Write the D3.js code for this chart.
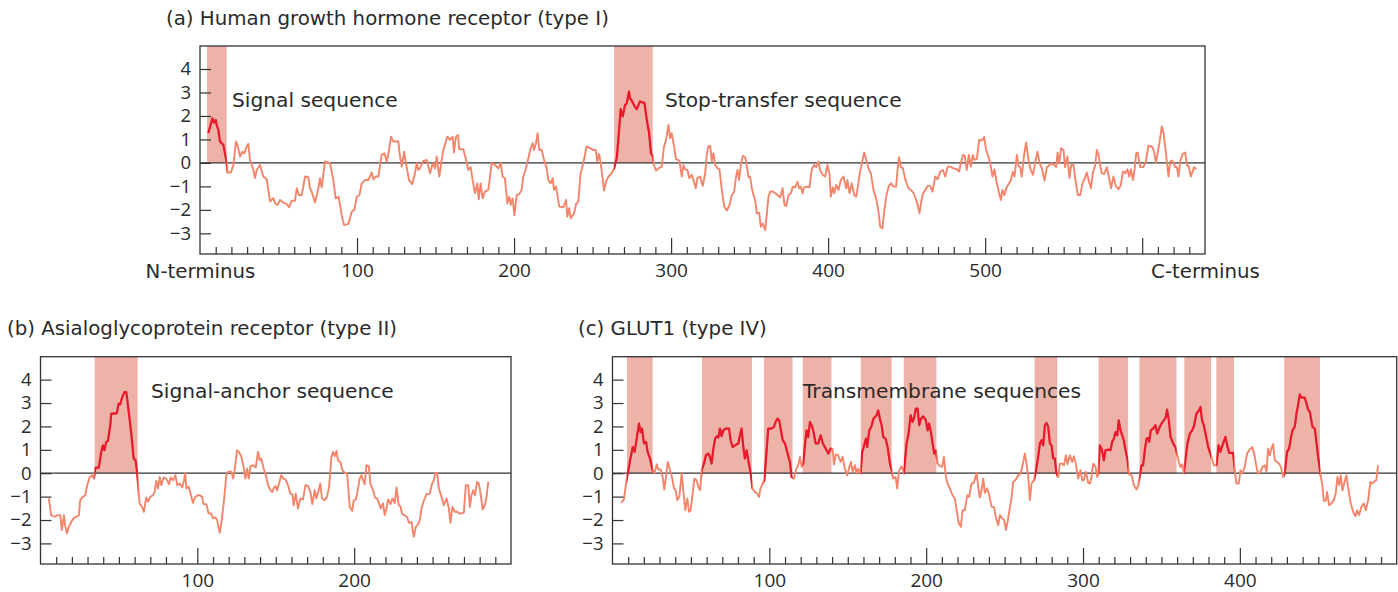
<!DOCTYPE html>
<html><head><meta charset="utf-8">
<script src="https://cdn.jsdelivr.net/npm/d3@7"></script>
<style>
body{margin:0;background:#fff}
svg{display:block}
text{font-family:"DejaVu Sans",sans-serif;fill:#2a2a2a}
</style>
</head><body>
<svg id="chart" width="1398" height="592"></svg>
<script>
// ---------- DATA ----------
const titles = ["(a) Human growth hormone receptor (type I)", "(b) Asialoglycoprotein receptor (type II)", "(c) GLUT1 (type IV)"];
const annotations = ["Signal sequence", "Stop-transfer sequence", "Signal-anchor sequence", "Transmembrane sequences"];
const yTickValues = [4, 3, 2, 1, 0, -1, -2, -3];

const xTickValuesA = [0, 100, 200, 300, 400, 500, 640];
const xTickLabelsA = ["N-terminus", "100", "200", "300", "400", "500", "C-terminus"];
const xTickValuesB = [100, 200];
const xTickValuesC = [100, 200, 300, 400];

const regionsA = [[4.5, 17], [263.7, 288.3]];
const regionsB = [[34.5, 62]];
const regionsC = [[9.2, 25.6], [57, 88.9], [96.5, 114.8], [121.3, 139.6], [158.3, 178], [185.7, 206.5],
  [269.1, 283.6], [309.9, 328.8], [336, 359.6], [364.6, 381.6], [385, 396.3], [428.3, 451.1]];

// residue, hydropathy index
const hydroA = [
[5.3,1.27],[7.9,1.9],[8.9,1.72],[10,1.83],[10.6,1.62],[11.7,1.41],[12.7,0.91],[14.9,0.77],[17,0],[17.6,-0.41],[19.7,-0.41],[21.2,-0.1],[22.9,0.91],[23.8,0.77],[25.5,0.27],[27,0.48],[28.2,0.41],[29.7,0.7],[30.8,0.81],[31.8,0.13],[34,-0.3],[35,-0.65],[36.1,-0.3],[38.2,-0.09],[40.3,-0.58],[42.5,-0.7],[43.5,-1.15],[44.6,-1.65],[46.7,-1.5],[47.8,-1.72],[49.3,-1.79],[51,-1.58],[53,-1.69],[55.2,-1.75],[56.7,-1.89],[58.4,-1.61],[60.5,-1.61],[61.6,-1.08],[63,-1.37],[64.8,-1.37],[66.9,-0.58],[69,-0.61],[70,-1.08],[71.1,-1.22],[73.2,-1.69],[75.4,-1.08],[76.4,-0.65],[77.5,-1.04],[79.6,0.06],[82.8,-0.01],[84.9,-0.73],[86.4,-1.51],[88.1,-1.44],[89.2,-1.79],[90.2,-2.22],[91.7,-2.65],[94.5,-2.6],[96.6,-2.08],[98.3,-2],[99.8,-1.44],[101.5,-1.37],[103,-0.87],[105.1,-0.73],[107.2,-0.73],[109.3,-0.41],[110.4,-0.7],[111.9,-0.58],[113.6,-0.58],[115.7,0.34],[117.4,0.41],[118.9,0.06],[120,0.41],[121.7,1.12],[123.1,0.91],[126.3,0.91],[127.4,0.27],[128.5,-0.16],[130,0.48],[131.6,-0.18],[133.1,-0.73],[135.2,-0.9],[136.9,-0.44],[138,-0.01],[139.1,-0.3],[140.1,-0.23],[141.8,0.06],[144.4,0.13],[146.5,-0.44],[148.2,-0.01],[149.7,-0.23],[150.7,0.27],[152.4,-0.58],[153.9,0.13],[155,0.55],[157.5,1.12],
[159.2,0.98],[160.9,1.12],[161.7,0.44],[163,1.12],[164.3,1.19],[165.1,0.58],[167.7,0.58],[169.4,0.13],[170.9,-0.3],[172.4,-0.18],[173.6,-0.73],[175.1,-1.29],[176.6,-0.87],[177.5,-1.55],[178.7,-0.87],[180,-1.51],[181.5,-1.22],[183.6,-1.15],[184.7,-0.58],[185.7,-0.01],[187.9,-0.09],[190,-0.23],[191.5,-0.01],[192.7,-0.58],[194.2,-0.65],[195.7,-1.72],[197,-1.44],[197.8,-1.79],[199.1,-1.51],[200.2,-2.22],[201.7,-1.37],[203.4,-1.32],[204.8,-1.15],[205.9,-0.58],[207.6,-0.23],[209.1,0.2],[210.6,0.63],[211.9,0.84],[212.7,0.55],[214,0.84],[215,1.27],[216.1,0.55],[217.6,0.55],[219.1,0.13],[220.8,-0.23],[221.8,-0.73],[223.3,-0.87],[224.6,-0.65],[225.4,-1.15],[226.7,-1.01],[227.6,-1.37],[228.8,-1.86],[231.4,-1.89],[233.1,-1.58],[233.9,-2.29],[235,-1.93],[236.1,-2.36],[238.2,-2.15],[239.5,-1.75],[240.9,-1.65],[242.4,-0.44],[244.1,-0.01],[246.2,0.7],[248.4,0.63],[250.5,0.55],[252,0.55],[253,0.06],[254.1,0.38],[255.2,-0.01],[257.3,-1.18],[258.6,-0.8],[260.1,-0.58],[262.2,-0.44],[263.7,-0.23],[265.4,0.2],[266.4,0.98],[267.9,2.29],[269.2,1.98],[270.7,2.48],[271.7,2.52],[273.2,3.04],[273.8,2.76],[274.9,2.66],[276.6,2.43],[278.1,2.29],[280.2,2.62],[281.9,2.57],[283,2.57],[284.5,1.84],[286,1.27],[287.2,0.41],[288.3,0.3],[289.1,-0.09],[290.4,-0.33],[291.9,-0.23],[294,-0.16],[295.5,0.7],[296.8,0.98],[298.3,1.62],[299.3,1.05],[300.4,1.27],[301.9,0.7],[303.1,0.16],[305.3,0.1],[306.8,-0.58],[307.8,-0.09],[308.9,-0.27],[310.4,-0.3],[311.6,-0.65],[313.1,-0.51],[314.2,-0.73],[315.7,-1.08],[316.7,-0.65],
[318.5,-0.58],[320.2,-0.98],[321.7,-0.44],[322.7,0.34],[323.8,0.7],[324.9,0.73],[325.9,0.06],[327,0.41],[328.1,-0.09],[329.5,-0.23],[330.8,-0.27],[332.3,-1.15],[333.8,-1.86],[335.5,-2.03],[337.2,-1.79],[338.7,-1.37],[340.2,-1.22],[341.2,-0.65],[342.3,-0.3],[343.3,-0.73],[344.4,-0.09],[345.7,0.3],[347.2,0.24],[348.2,-0.13],[349.3,-0.61],[350.3,-0.58],[351.4,-1.08],[352.5,-1.37],[353.5,-1.58],[354.6,-2.15],[356.1,-2.12],[357.1,-2.72],[358.4,-2.58],[359.9,-2.86],[361,-2.15],[362,-1.44],[363.1,-1.22],[364.8,-1.22],[366.3,-1.29],[367.8,-1.37],[369.5,-1.47],[371,-1.08],[372.2,-1.79],[373.3,-1.84],[374.8,-1.37],[376.3,-1.29],[377.5,-1.01],[379,-1.04],[380.5,-0.8],[381.6,-1.08],[382.6,-1.01],[383.7,-1.29],[384.7,-1.04],[386.4,-1.01],[388.1,-1.04],[389.6,-0.27],[391.1,-0.09],[392.4,-0.18],[393.9,0.06],[394.9,-0.3],[396.6,-0.51],[398.1,-0.58],[399.6,-0.09],[400.9,-0.51],[401.7,-1.44],[403,-1.04],[403.9,-1.29],[405.1,-0.94],[406.6,-1.15],[408.1,-0.73],[409.8,-0.58],[411.5,-1.08],[412.3,-0.73],[413.6,-1.29],[415.1,-0.87],[416.6,-1.37],[417.9,-1.44],[418.9,-1.01],[420.4,-0.37],[421.9,0.13],[423,0.44],[424.2,0.13],[425.7,-0.23],[427.2,-0.44],[428.9,-1.15],[430.6,-1.51],[432.1,-2.08],[433.1,-2.72],[434.6,-2.79],[435.7,-2.08],[437,-1.44],[438.5,-1.01],[440,-0.87],[441.6,-1.01],[443.3,-1.01],[444.2,-0.3],[445.2,0.24],[446.3,-0.18],[447.6,-0.23],[449.1,-0.7],[451.2,-1.08],[452.7,-1.15],[454.4,-1.29],[456.1,-1.58],[457,-1.79],[458.2,-2.15],[459.1,-1.72],[460.3,-1.32],[461.8,-1.15],[463.3,-0.98],[465,-0.98],[466.5,-1.22],[468.2,-0.58],[469.7,-0.7],[471.4,-0.37],[473.1,-0.3],[474.6,-0.58],[476.1,-0.16],
[477.7,-0.16],[479.8,-0.23],[482,-0.27],[483.4,-0.37],[484.5,-0.01],[485.8,0.34],[487,0.3],[488.3,-0.3],[489.6,0.34],[490.9,-0.16],[492.1,0.34],[493,0.13],[494.7,0.16],[496.2,0.98],[497.9,0.95],[499.4,1.1],[500.6,0.55],[502.1,0.27],[503.2,-0.01],[504.7,-0.58],[505.9,-0.27],[507.4,-0.87],[508.9,-1.29],[510,-1.58],[511,-1.15],[512.3,-1.37],[513.4,-1.08],[514.9,-0.9],[516.3,-0.75],[517.6,-0.37],[518.7,-0.58],[520.2,0.34],[521.2,-0.13],[522.3,-0.18],[523.3,-0.58],[524.8,0.34],[526.1,0.87],[527.6,0.13],[528.7,-0.23],[530.4,-0.51],[531.8,-0.01],[533.3,0.48],[534.6,0.01],[536.1,-0.23],[537.8,-0.75],[539.3,-0.18],[541,-0.09],[542.5,-0.01],[544,-0.09],[545.2,-0.18],[546.1,0.44],[547.1,-0.01],[548.4,0.63],[549.9,0.55],[550.9,-0.18],[552.4,0.27],[553.7,-0.65],[554.8,-0.09],[556.3,-0.09],[557.5,-0.73],[559,-1.37],[560.5,-1.37],[562,-0.87],[563.5,-0.65],[564.7,-0.41],[566.2,-0.8],[567.3,-1.08],[568.6,-0.44],[570.1,-0.09],[571.1,0.55],[572.2,0.34],[573.2,-0.09],[574.3,-0.44],[575.8,-0.47],[577.5,-0.18],[579.2,-0.73],[580.2,-1.08],[581.7,-0.58],[583.2,-0.98],[584.9,-1.12],[586.4,-0.94],[587.7,-0.37],[589.2,-0.44],[590.6,-0.27],[591.7,-0.58],[592.8,-0.27],[594.1,-0.73],[595.1,-0.3],[596.2,0.41],[597.2,0.44],[598.7,-0.18],[600.8,-0.18],[602.3,0.06],[604,0.73],[606.2,0.7],[607.6,0.48],[608.7,0.01],[610,0.48],[611,0.87],[612.5,1.55],[613.6,1.27],[614.6,0.7],[615.7,0.06],[616.8,-0.58],[617.8,0.06],[618.9,0.1],[620,-0.01],[621,-0.18],[622.1,-0.18],[623.1,-0.58],[624.2,0.06],[625.7,0.38],[627.4,0.44],[628.4,-0.09],[629.7,-0.16],[631,-0.58],[632.1,-0.37],[633.1,-0.18],[634.4,-0.27]
];

const hydroB = [
[5.3,-1.08],[6.8,-1.79],[8.9,-1.86],[11.1,-1.79],[12.6,-1.79],[13.6,-2.43],[14.9,-1.79],[15.7,-2.22],[16.8,-2.57],[18.1,-2.29],[19.6,-2.08],[21.1,-1.93],[22.8,-1.86],[24.5,-1.79],[25.3,-1.15],[27,-1.01],[28.5,-0.94],[29.8,-0.51],[31.3,-0.18],[32.8,-0.09],[34,-0.23],[35.1,0.24],[37.2,0.24],[38.7,0.91],[39.8,1.19],[40.8,0.98],[41.9,1.34],[43,1.38],[44.5,2.05],[45.1,2.55],[47.2,2.55],[48.7,2.57],[49.8,2.97],[50.8,2.94],[51.5,3.12],[52.6,3.33],[53.6,3.47],[54.7,3.47],[56.4,2.55],[57.9,1.69],[59.4,0.63],[60.6,0.55],[61.7,-0.01],[63.2,-1.29],[64.7,-1.44],[65.9,-1.65],[67.4,-1.04],[68.5,-1.22],[70,-1.01],[71.7,-0.94],[72.8,-0.8],[73.8,-0.33],[74.9,-0.65],[76,-0.16],[77,-0.51],[78.5,-0.18],[80.2,-0.23],[81.9,-0.47],[83,-0.18],[84.5,-0.3],[86,-0.09],[87.2,-0.51],[88.7,-0.44],[90.4,-0.61],[91.5,-0.3],[92.3,-0.01],[93,-0.65],[94.5,-0.58],[95.7,-0.87],[97.2,-1.27],[98.7,-1.01],[100.4,-0.94],[101.5,-0.94],[103,-1.01],[104,-1.32],[105.7,-1.32],[107.2,-1.72],[108.9,-1.72],[110,-1.93],[111.5,-1.89],[112.6,-2],[114.3,-2.55],[115.3,-2.15],[116.8,-1.29],[118.5,-0.09],[119.6,0.06],[121.7,0.06],[122.8,-0.23],[123.8,0.13],[125.3,0.98],[126.6,0.91],[128.1,0.7],[129.6,0.24],[130.6,-0.23],[131.7,0.2],[132.8,-0.23],[133.8,0.3],[135.5,0.34],[137.2,0.24],[138.7,0.91],[139.8,0.55],[140.8,0.63],[142.3,0.2],[144,-0.16],[145.1,-0.51],[146.6,-0.73],
[147.8,-0.8],[148.9,-0.61],[149.9,-0.55],[150.8,-0.73],[152.1,-0.44],[153.5,-0.09],[155,-0.23],[156.3,-0.27],[157.8,-0.51],[159.3,-0.87],[160.6,-0.9],[161.4,-1.37],[162.7,-0.87],[164.2,-1.51],[165.7,-1.08],[167.4,-1.12],[168.9,-0.51],[170.6,-0.55],[172.1,-0.8],[173.3,-1.32],[174.8,-0.73],[175.9,-1.08],[177.4,-0.73],[178.4,-0.44],[179.5,-1.08],[181.2,-1.15],[182.7,-1.01],[184,-0.58],[185.5,0.7],[186.5,0.91],[187.6,0.73],[188.7,0.95],[189.7,0.55],[191.2,0.48],[192.5,0.13],[194,0.01],[195.5,-0.01],[197.2,-1.44],[198.7,-1.61],[199.7,-1.18],[201,-1.12],[202.1,-0.8],[203.5,-0.23],[204.6,-0.09],[205.7,-0.3],[206.7,-0.47],[207.8,0.34],[209.3,0.3],[210.4,-0.47],[212.1,-0.73],[213.3,-1.04],[214.6,-1.08],[215.9,-1.29],[216.9,-1.51],[218.4,-1.29],[219.5,-1.79],[220.6,-1.51],[221.6,-1.12],[223.1,-1.32],[224.4,-1.08],[225.9,-1.27],[227,-0.61],[228.4,-1.37],[229.5,-1.41],[230.6,-1.75],[232.3,-1.79],[233.8,-1.89],[235,-2.12],[236.5,-2.08],[238,-2.72],[239.3,-2.29],[240.8,-2.18],[241.9,-2],[242.9,-1.51],[244.4,-1.18],[246.1,-0.9],[248.2,-0.87],[249.7,-0.44],[250.8,-0.3],[251.8,0.01],[252.9,0.01],[254,-0.65],[255.7,-1.01],[257.2,-1.37],[258.9,-1.08],[260.4,-1.51],[261.4,-2.12],[262.7,-1.44],[264.2,-1.65],[265.7,-1.65],[267,-1.72],[268.4,-1.72],[269.9,-1.69],[271.2,-0.51],[272.7,-0.51],[273.8,-1.44],[274.8,-0.94],[275.9,-0.73],[277,-0.94],[278.4,-0.37],[279.5,-0.44],[280.6,-0.87],[281.9,-1.55],[283.3,-1.37],[284.4,-1.01],[285.5,-0.37]
];

const hydroC = [
[5.6,-1.27],[7.3,-1.12],[8.6,-0.44],[9.7,-0.01],[11.2,0.55],[12.9,1.12],[14.1,0.91],[15.4,1.48],[16.9,2.12],[17.9,1.76],[18.8,1.91],[20.1,1.27],[21.4,1.34],[22.4,0.91],[23.9,0.63],[25.6,0.13],[26.7,-0.01],[28.2,0.38],[29.2,0.16],[30.7,0.16],[32,-0.16],[33,-0.7],[34.1,-0.16],[35.2,0.48],[36.7,0.13],[37.9,-0.16],[39.2,-0.65],[40.3,-0.73],[41.3,-1.15],[42.6,-1.01],[44.1,-0.01],[45.1,-0.73],[46.4,-1.58],[47.7,-1.08],[48.8,-1.65],[49.8,-1.58],[51.1,-0.87],[52.2,-0.23],[53.6,-0.3],[54.7,-0.58],[55.8,-0.73],[56.8,0.13],[58.3,0.41],[59.6,0.77],[61.1,0.84],[62.1,0.7],[63.2,0.41],[64.3,1.05],[65.5,1.48],[66.4,1.58],[67.5,1.52],[68.5,1.91],[69.6,1.58],[70.6,1.83],[72.1,1.91],[74.3,1.91],[75.3,1.41],[76.6,1.12],[78.1,1.19],[80.2,1.27],[81.3,1.62],[82.3,1.91],[83.4,1.12],[84.4,0.63],[85.5,0.98],[86.6,0.55],[88.1,-0.01],[89.3,-0.65],[90.8,-0.8],[92.3,-0.87],[93.4,-1.01],[94.4,-0.65],[95.7,-0.44],[96.8,-0.3],[97.8,0.55],[99.3,1.91],[101.4,1.91],[102.9,1.98],[104,2.19],[105.1,2.33],[106.3,2.26],[107.4,1.83],[108.5,1.41],[110,1.27],[111.4,0.91],[113.1,0.48],[114.2,-0.16],[115.7,-0.23],[116.9,0.13],[118.4,0.34],[119.5,0.7],[120.6,0.27],[121.6,0.41],[122.7,1.19],[123.7,1.83],[124.8,1.55],[125.9,2.19],[127.4,1.98],[128.4,1.69],[129.5,1.27],[131.2,1.27],[132.7,1.62],[134,1.29],[135.4,1.12],[136.5,0.98],[137.6,0.84],[139,1.05],[140.3,1.05],[141.2,0.38],[142.4,0.81],[143.9,0.77],[145.4,0.48],[146.7,0.7],[148.2,0.16],[149.7,-0.09],[150.9,0.24],[152,0.48],[153.1,0.06],[154.6,0.34],[155.6,-0.01],[156.7,0.2],[158.2,-0.01],[159.2,0.91],[160.3,1.15],[161.6,1.48],[162.4,1.12],[163.7,1.83],[165.2,2.01],[166.3,2.33],[168.4,2.48],[169.4,2.69],[170.5,2.33],[171.6,2.05],[172.6,1.55],[174.1,1.48],[175.4,1.12],[176.9,0.41],[178,0.13],[179,-0.23],[180.5,-0.16],[181.5,-0.65],[182.8,0.13],[184.3,0.3],[185.8,-0.01],[187.5,1.27],[188.6,1.62],[190.1,2.48],[191.3,2.19],[192.4,2.4],[193.4,2.76],[194.5,2.76],[195.6,2.05],[196.6,2.33],[198.1,2.43],[199.8,2.26],[200.9,1.83],[201.9,2.12],[203,1.76],[204.1,1.27],[205.1,0.84],[206.2,0.98],[207.3,0.41],[208.7,0.3],[210.2,0.27],[211.3,0.7],[212.6,-0.16],[213.6,-0.44],[215.1,-0.65],[216.8,-0.94],[218.3,-1.08],[219.4,-1.58],[220.8,-2.15],[222.1,-2.29],
[223.2,-1.58],[224.7,-1.58],[226.2,-0.94],[227.4,-1.01],[228.9,-0.44],[230.4,-0.41],[232.1,0.01],[233.2,-0.58],[234.2,-1.04],[235.3,-0.73],[236.4,-0.23],[237.4,-0.84],[238.9,-0.65],[240.2,-0.94],[241.7,-1.44],[243.2,-1.44],[244.4,-1.86],[245.9,-2.22],[247,-1.79],[248.5,-1.93],[249.8,-2.01],[250.8,-2.43],[251.9,-2.08],[253.4,-1.44],[254.4,-1.08],[255.5,-0.37],[257.2,-0.27],[258.7,-0.09],[260.2,-0.01],[261.9,0.48],[262.9,0.84],[264,0.41],[265.1,-0.16],[266.1,-1.15],[267.2,-0.44],[268.7,-0.3],[269.9,0.06],[271.4,0.7],[272.5,1.27],[273.6,1.41],[274.6,1.19],[275.7,2.05],[276.7,2.15],[277.8,1.98],[278.9,1.27],[279.9,1.19],[281,0.63],[282,0.63],[283.1,-0.01],[284.2,-0.16],[285.2,0.41],[286.7,0.41],[287.8,0.34],[289.1,0.77],[290.1,0.38],[291.6,0.77],[293.1,0.48],[294.2,0.73],[295.4,0.41],[296.9,-0.23],[298.4,0.13],[299.5,-0.3],[300.5,-0.3],[301.8,0.06],[303.3,-0.41],[304.4,-0.44],[305.4,-0.16],[306.5,0.41],[308,0.27],[309,-0.16],[309.7,-0.01],[310.7,1.19],[312,1.01],[313.3,0.55],[314.3,0.98],[316,1.01],[317.5,0.98],[318.6,1.34],[319.7,1.48],[320.7,1.76],[321.8,1.62],[322.8,2.26],[323.9,1.83],[325,1.62],[326,1.41],[327.1,0.98],[328.4,0.55],[329.4,-0.04],[331,-0.09],[332.4,-0.51],[334.1,-0.7],[335.2,-0.51],[336.2,-0.09],[337.3,0.34],[338.3,0.34],[339.4,0.98],[340.5,1.48],[341.5,1.51],[342.2,1.34],[343.2,1.83],[344.7,1.91],[346.2,2.05],[347.3,1.69],[348.5,1.91],[350,2.12],[351.5,2.26],[352.8,2.4],[353.6,2.72],[354.7,2.26],[355.8,1.55],[357.5,1.27],[359,1.1],[360,0.81],[361.3,0.41],[362.1,0.27],[363.2,0.38],[364.3,-0.01],[365.5,0.7],[366.6,1.27],[368.1,1.69],[369.6,1.83],[370.9,2.05],[372.3,2.55],[374,2.69],[374.9,2.83],[375.9,2.26],[377,2.05],[378.3,1.62],[379.8,1.12],[380.8,0.91],[381.9,0.7],[383.4,0.34],[385.1,0.34],[386.4,1.19],[387.6,0.91],[388.5,1.12],[389.3,1.27],[390.8,1.55],[391.9,1.19],[393.2,0.87],[395.7,0.87],[397,-0.01],[397.8,-0.44],[399.3,-0.44],[400.4,0.13],[401.7,-0.01],[403.1,0.27],[404.6,0.84],[406.3,1.01],[408,1.12],[409.5,0.7],[410.6,0.27],[411.6,-0.01],[413.1,0.06],[414.4,0.27],[415.9,0.34],[417,0.06],[418,1.05],[419.1,0.77],[420.1,1.05],[421.2,1.24],[422.3,0.55],[423.8,0.48],[425,0.41],[426.1,0.27],[427.6,-0.16],[428.6,-0.01],[430.1,0.91],[431.4,1.05],[432.5,1.48],[433.5,1.83],[435,1.98],[436.1,2.55],[437.1,2.9],[438.2,3.37],[439.3,3.23],[441.4,3.23],[442.4,3],[443.5,2.72],[444.6,2.62],[446.3,1.98],[447.8,1.91],[448.8,1.34],[449.9,0.7],[451.4,-0.01],[452.7,-0.58],[453.5,-1.18],[454.8,-1.18],[455.6,-0.8],[456.9,-1.37],[458.4,-1.29],[459.9,-1.15],[461.1,-0.87],[462.2,-0.16],[463.3,-0.51],[464.3,-0.09],[465.4,-0.73],[466.5,-0.44],[467.9,-0.09],[469,-0.58],[470.5,-1.22],[472.2,-1.65],[473.7,-1.84],[474.7,-1.58],[476,-1.79],[477.5,-1.44],[479,-1.29],[480.3,-1.58],[481.8,-1.15],[483.2,-0.37],[484.3,-0.44],[485.4,-0.37],[487,-0.3],[488.1,0.34]
];

// ---------- STYLE ----------
const COL_LINE = "#f4846a";
const COL_HI = "#e8192c";
const COL_SHADE = "#edb3a9";
const COL_INK = "#2a2a2a";
const WORD_FONT = '"DejaVu Sans",sans-serif';
const NUM_FONT = '"Open Sans",sans-serif';
const yDomain = [-3.88, 4.98];

const panels = [
  {id:"a", title:titles[0], titleX:166, titleY:25, data:hydroA, regions:regionsA,
   xDomain:[0,640], left:200, right:1205, top:46, bottom:254, tickMax:630,
   majors:[100,200,300,400,500,600], xLabelVals:xTickValuesA, xLabelText:xTickLabelsA,
   notes:[{t:annotations[0], x:232, y:107},{t:annotations[1], x:665, y:107}]},
  {id:"b", title:titles[1], titleX:7, titleY:335, data:hydroB, regions:regionsB,
   xDomain:[0,300], left:40.5, right:511, top:356.7, bottom:564, tickMax:290,
   majors:[100,200], xLabelVals:xTickValuesB, xLabelText:xTickValuesB.map(String),
   notes:[{t:annotations[2], x:151, y:398}]},
  {id:"c", title:titles[2], titleX:578, titleY:335, data:hydroC, regions:regionsC,
   xDomain:[0,500], left:612.5, right:1396.7, top:356.7, bottom:564, tickMax:490,
   majors:[100,200,300,400], xLabelVals:xTickValuesC, xLabelText:xTickValuesC.map(String),
   notes:[{t:annotations[3], x:803, y:398}]}
];

const svg = d3.select("#chart");
const defs = svg.append("defs");

panels.forEach(p => {
  const x = d3.scaleLinear().domain(p.xDomain).range([p.left, p.right]);
  const y = d3.scaleLinear().domain(yDomain).range([p.bottom, p.top]);
  const g = svg.append("g");

  // title
  svg.append("text").attr("x", p.titleX).attr("y", p.titleY)
    .style("font-size", "19.8px").style("font-family", WORD_FONT).text(p.title);

  // shaded regions
  g.selectAll("rect.shade").data(p.regions).join("rect").attr("class","shade")
    .attr("x", d => x(d[0])).attr("y", p.top)
    .attr("width", d => x(d[1]) - x(d[0])).attr("height", y(0) - p.top)
    .attr("fill", COL_SHADE);

  // zero line
  g.append("line").attr("x1", p.left).attr("x2", p.right)
    .attr("y1", y(0)).attr("y2", y(0)).attr("stroke", "#333").attr("stroke-width", 1.2);

  const line = d3.line().x(d => x(d[0])).y(d => y(d[1]));
  g.append("path").datum(p.data).attr("d", line).attr("fill","none")
    .attr("stroke", COL_LINE).attr("stroke-width", 1.9).attr("stroke-linejoin","round");

  p.regions.forEach((r, i) => {
    const cid = `clip-${p.id}-${i}`;
    defs.append("clipPath").attr("id", cid).append("rect")
      .attr("x", x(r[0])).attr("y", p.top).attr("width", x(r[1]) - x(r[0])).attr("height", p.bottom - p.top);
    g.append("path").datum(p.data).attr("d", line).attr("fill","none")
      .attr("clip-path", `url(#${cid})`)
      .attr("stroke", COL_HI).attr("stroke-width", 2.2).attr("stroke-linejoin","round");
  });

  // y axis (ticks inside)
  const ya = g.append("g").attr("transform", `translate(${p.left},0)`)
    .call(d3.axisLeft(y).tickValues(yTickValues).tickSizeInner(-11).tickSizeOuter(0).tickPadding(9));
  ya.select(".domain").remove();
  ya.selectAll("line").attr("stroke", "#333").attr("stroke-width", 1.2);
  ya.selectAll("text").style("font-size", "18.5px").attr("fill", COL_INK).style("font-family", NUM_FONT);

  // x axis minor ticks
  const minors = d3.range(10, p.tickMax + 1, 10).filter(v => !p.majors.includes(v));
  const xm = g.append("g").attr("transform", `translate(0,${p.bottom})`)
    .call(d3.axisBottom(x).tickValues(minors).tickSizeInner(-7).tickSizeOuter(0).tickFormat(""));
  xm.select(".domain").remove();
  xm.selectAll("line").attr("stroke", "#333").attr("stroke-width", 1.2);
  const xM = g.append("g").attr("transform", `translate(0,${p.bottom})`)
    .call(d3.axisBottom(x).tickValues(p.majors).tickSizeInner(-16).tickSizeOuter(0).tickFormat(""));
  xM.select(".domain").remove();
  xM.selectAll("line").attr("stroke", "#333").attr("stroke-width", 1.2);
  const xl = g.append("g").attr("transform", `translate(0,${p.bottom})`)
    .call(d3.axisBottom(x).tickValues(p.xLabelVals).tickSize(0).tickPadding(10)
      .tickFormat((d, i) => p.xLabelText[i]));
  xl.select(".domain").remove();
  xl.selectAll("text").attr("fill", COL_INK)
    .style("font-size", d => isNaN(+p.xLabelText[p.xLabelVals.indexOf(d)]) ? "19.8px" : "19px")
    .style("font-family", d => isNaN(+p.xLabelText[p.xLabelVals.indexOf(d)]) ? WORD_FONT : NUM_FONT);

  // frame
  g.append("rect").attr("x", p.left).attr("y", p.top)
    .attr("width", p.right - p.left).attr("height", p.bottom - p.top)
    .attr("fill", "none").attr("stroke", "#333").attr("stroke-width", 1.3);

  // annotations
  p.notes.forEach(n => {
    g.append("text").attr("x", n.x).attr("y", n.y)
      .style("font-size", "20.2px").style("font-family", WORD_FONT).text(n.t);
  });
});
</script>
</body></html>
